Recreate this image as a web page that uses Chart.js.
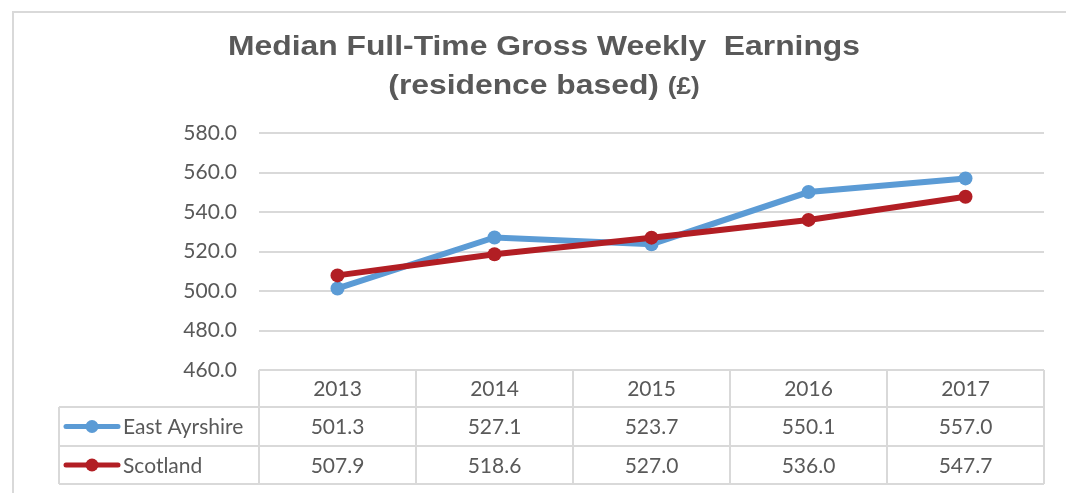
<!DOCTYPE html>
<html>
<head>
<meta charset="utf-8">
<title>Median Full-Time Gross Weekly Earnings</title>
<script src="https://cdn.jsdelivr.net/npm/chart.js@4/dist/chart.umd.min.js"></script>
<style>
    body { margin: 0; background: #fff; }
    #wrap { width: 1066px; height: 493px; position: relative; }
</style>
</head>
<body>
<div id="wrap"><canvas id="chart"></canvas></div>
<script>
"use strict";

const years = ["2013", "2014", "2015", "2016", "2017"];
const eastAyrshire = [501.3, 527.1, 523.7, 550.1, 557.0];
const scotland = [507.9, 518.6, 527.0, 536.0, 547.7];
const seriesNames = ["East Ayrshire", "Scotland"];
const titleLine1 = "Median Full-Time Gross Weekly  Earnings";
const titleLine2 = ["(residence based) ", "(£)"];

const blue = "#5B9BD5";
const red = "#B21E24";
const grey = "#595959";
const gridGrey = "#D9D9D9";
const textFamily = "Lato, 'Open Sans', sans-serif";
const tableFont = "21px " + textFamily;
const titleFamily = "'Liberation Sans', Arial, sans-serif";

// rand om diagrammet
const framePlugin = {
    id: "frame",
    beforeDraw(chart) {
        const ctx = chart.ctx;
        ctx.save();
        ctx.strokeStyle = gridGrey;
        ctx.lineWidth = 2;
        ctx.strokeRect(13, 12, chart.width + 20, chart.height + 20);
        ctx.restore();
    }
};

// rubrik, lite bredare som i originalet
const titlePlugin = {
    id: "wideTitle",
    afterDraw(chart) {
        const ctx = chart.ctx;
        const cx = 544;
        ctx.save();
        ctx.fillStyle = grey;
        ctx.textBaseline = "alphabetic";
        ctx.textAlign = "left";
        ctx.font = "bold 28px " + titleFamily;
        const w1 = ctx.measureText(titleLine1).width;
        const sx = 632 / w1;
        ctx.save();
        ctx.translate(cx - w1 * sx / 2, 55);
        ctx.scale(sx, 1);
        ctx.fillText(titleLine1, 0, 0);
        ctx.restore();

        const wa = ctx.measureText(titleLine2[0]).width;
        ctx.font = "bold 23px " + titleFamily;
        const wb = ctx.measureText(titleLine2[1]).width;
        ctx.save();
        ctx.translate(cx - (wa + wb) * sx / 2, 94);
        ctx.scale(sx, 1);
        ctx.font = "bold 28px " + titleFamily;
        ctx.fillText(titleLine2[0], 0, 0);
        ctx.font = "bold 23px " + titleFamily;
        ctx.fillText(titleLine2[1], wa, 0);
        ctx.restore();
        ctx.restore();
    }
};

// datatabell under diagrammet
const tablePlugin = {
    id: "dataTable",
    afterDraw(chart) {
        const ctx = chart.ctx;
        const x = chart.scales.x;
        const area = chart.chartArea;
        const half = (x.getPixelForValue(1) - x.getPixelForValue(0)) / 2;
        const top = area.bottom;
        const rows = [top, top + 37, top + 76, top + 114];
        const legendLeft = 59;

        ctx.save();
        ctx.strokeStyle = gridGrey;
        ctx.lineWidth = 2;
        ctx.beginPath();
        ctx.moveTo(area.left, rows[0]);
        ctx.lineTo(area.right, rows[0]);
        for (let r = 1; r < rows.length; r++) {
            ctx.moveTo(legendLeft, rows[r]);
            ctx.lineTo(area.right, rows[r]);
        }
        ctx.moveTo(legendLeft, rows[1]);
        ctx.lineTo(legendLeft, rows[3]);
        for (let i = 0; i < years.length; i++) {
            const l = x.getPixelForValue(i) - half;
            ctx.moveTo(l, rows[0]);
            ctx.lineTo(l, rows[3]);
        }
        ctx.moveTo(area.right, rows[0]);
        ctx.lineTo(area.right, rows[3]);
        ctx.stroke();

        ctx.fillStyle = grey;
        ctx.font = tableFont;
        ctx.textAlign = "center";
        ctx.textBaseline = "middle";
        years.forEach((y, i) => {
            ctx.fillText(y, x.getPixelForValue(i), (rows[0] + rows[1]) / 2 + 1);
        });

        chart.data.datasets.forEach((ds, d) => {
            const cy = (rows[d + 1] + rows[d + 2]) / 2;
            ctx.fillStyle = grey;
            ctx.textAlign = "center";
            ds.data.forEach((v, i) => {
                ctx.fillText(v.toFixed(1), x.getPixelForValue(i), cy + 1);
            });
            // legendsymbol
            ctx.strokeStyle = ds.borderColor;
            ctx.lineWidth = 5;
            ctx.lineCap = "round";
            ctx.beginPath();
            ctx.moveTo(66, cy);
            ctx.lineTo(118, cy);
            ctx.stroke();
            ctx.fillStyle = ds.borderColor;
            ctx.beginPath();
            ctx.arc(92, cy, 6.5, 0, Math.PI * 2);
            ctx.fill();
            ctx.fillStyle = grey;
            ctx.textAlign = "left";
            ctx.fillText(ds.label, 123, cy + 1);
        });
        ctx.restore();
    }
};

const ctx = document.getElementById("chart").getContext("2d");
new Chart(ctx, {
    type: "line",
    data: {
        labels: years,
        datasets: [{
            label: seriesNames[0],
            data: eastAyrshire,
            borderColor: blue,
            backgroundColor: blue,
            borderWidth: 6,
            pointRadius: 7,
            pointBorderWidth: 0,
            order: 1
        }, {
            label: seriesNames[1],
            data: scotland,
            borderColor: red,
            backgroundColor: red,
            borderWidth: 6,
            pointRadius: 7,
            pointBorderWidth: 0,
            order: 0
        }]
    },
    options: {
        responsive: true,
        maintainAspectRatio: false,
        animation: false,
        layout: { padding: { left: 46, right: 22, top: 133, bottom: 123 } },
        scales: {
            x: {
                display: false,
                offset: true
            },
            y: {
                min: 460,
                max: 580,
                border: { display: false },
                grid: { color: gridGrey, lineWidth: 2, drawTicks: false },
                afterFit(scale) { scale.width = 213; },
                ticks: {
                    stepSize: 20,
                    padding: 22,
                    color: grey,
                    font: { family: textFamily, size: 21 },
                    callback: v => v.toFixed(1)
                }
            }
        },
        plugins: {
            legend: { display: false },
            tooltip: { enabled: false },
            title: { display: false }
        }
    },
    plugins: [framePlugin, titlePlugin, tablePlugin]
});
</script>
</body>
</html>
